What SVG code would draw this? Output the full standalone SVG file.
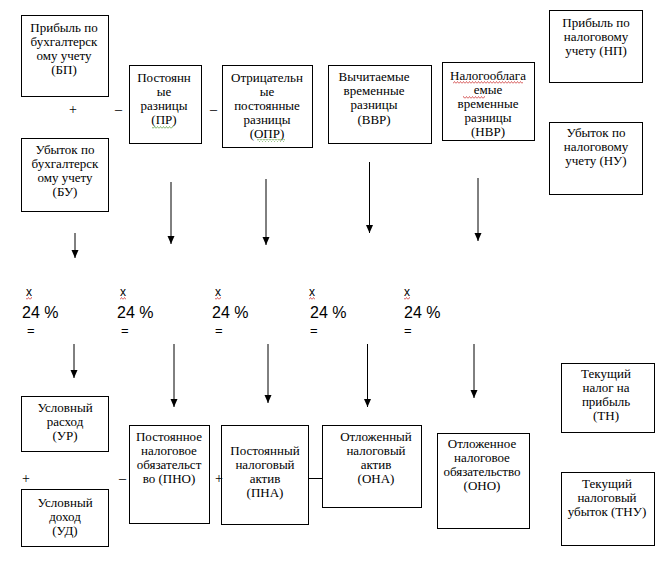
<svg xmlns="http://www.w3.org/2000/svg" width="665" height="562" viewBox="0 0 665 562">
<style>
.box{fill:#fff;stroke:#000;stroke-width:1}
.t{font-family:"Liberation Serif","DejaVu Serif",serif;font-size:13px;fill:#000;text-anchor:middle}
.op{font-family:"Liberation Serif","DejaVu Serif",serif;font-size:14px;fill:#000}
.pc{font-family:"Liberation Sans",Arial,sans-serif;font-size:16px;fill:#000}
.x{font-family:"Liberation Sans",Arial,sans-serif;font-size:12px;fill:#000}
.eq{font-family:"Liberation Sans",Arial,sans-serif;font-size:13px;fill:#000}
.con line{stroke:#000;stroke-width:1;fill:none}
.arr{marker-end:url(#ah)}
</style>
<defs>
<marker id="ah" markerUnits="userSpaceOnUse" viewBox="0 0 8 8" markerWidth="8" markerHeight="8" refX="8" refY="4" orient="auto">
<path d="M0,0.5 L8,4 L0,7.5 z" fill="#000"/>
</marker>
<pattern id="wg" patternUnits="userSpaceOnUse" width="3" height="3">
<path d="M0,2.5 L1.5,0.5 L3,2.5" fill="none" stroke="#6aa84f" stroke-width="0.8"/>
</pattern>
<pattern id="wr" patternUnits="userSpaceOnUse" width="3" height="3">
<path d="M0,2.5 L1.5,0.5 L3,2.5" fill="none" stroke="#d04040" stroke-width="0.8"/>
</pattern>
</defs>
<rect width="665" height="562" fill="#fff"/>

<g id="BP"><rect class="box" x="21.5" y="15.5" width="87" height="81"/>
<text class="t" x="64" y="32">Прибыль по</text><text class="t" x="64" y="46">бухгалтерск</text><text class="t" x="64" y="60">ому учету</text><text class="t" x="64" y="74">(БП)</text></g>

<g id="BU"><rect class="box" x="21.5" y="138.5" width="87" height="73"/>
<text class="t" x="65" y="154">Убыток по</text><text class="t" x="65" y="168">бухгалтерск</text><text class="t" x="65" y="182">ому учету</text><text class="t" x="65" y="196">(БУ)</text></g>

<g id="PR"><rect class="box" x="129.5" y="65.5" width="72" height="78"/>
<text class="t" x="164" y="82">Постоянн</text><text class="t" x="164" y="96">ые</text><text class="t" x="164" y="110">разницы</text><text class="t" x="164" y="124">(ПР)</text>
<rect x="152" y="126" width="21" height="3" fill="url(#wg)"/></g>

<g id="OPR"><rect class="box" x="222.5" y="65.5" width="90" height="82"/>
<text class="t" x="267" y="82">Отрицательн</text><text class="t" x="267" y="96">ые</text><text class="t" x="267" y="110">постоянные</text><text class="t" x="267" y="124">разницы</text><text class="t" x="267" y="138">(ОПР)</text>
<rect x="257" y="139" width="28" height="3" fill="url(#wg)"/></g>

<g id="VVR"><rect class="box" x="328.5" y="65.5" width="103" height="78"/>
<text class="t" x="374" y="81">Вычитаемые</text><text class="t" x="374" y="95">временные</text><text class="t" x="374" y="109">разницы</text><text class="t" x="374" y="124">(ВВР)</text></g>

<g id="NVR"><rect class="box" x="442.5" y="62.5" width="92" height="78"/>
<text class="t" x="488" y="80">Налогооблага</text><text class="t" x="488" y="94">емые</text><text class="t" x="488" y="108">временные</text><text class="t" x="488" y="122">разницы</text><text class="t" x="488" y="136">(НВР)</text>
<rect x="453" y="81" width="70" height="3" fill="url(#wr)"/>
<rect x="463" y="96" width="22" height="3" fill="url(#wr)"/></g>

<g id="NP"><rect class="box" x="549.5" y="10.5" width="93" height="72"/>
<text class="t" x="596" y="27">Прибыль по</text><text class="t" x="596" y="41">налоговому</text><text class="t" x="596" y="55">учету (НП)</text></g>

<g id="NU"><rect class="box" x="549.5" y="122.5" width="93" height="72"/>
<text class="t" x="596" y="137">Убыток по</text><text class="t" x="596" y="151">налоговому</text><text class="t" x="596" y="165">учету (НУ)</text></g>

<g id="rates">
<text class="x" x="26" y="296">х</text><text class="pc" x="22" y="318">24 %</text><text class="eq" x="27" y="335">=</text>
<text class="x" x="120" y="296">х</text><text class="pc" x="117" y="318">24 %</text><text class="eq" x="121" y="335">=</text>
<text class="x" x="215" y="296">х</text><text class="pc" x="212" y="318">24 %</text><text class="eq" x="215" y="335">=</text>
<text class="x" x="309" y="296">х</text><text class="pc" x="310" y="318">24 %</text><text class="eq" x="310" y="335">=</text>
<text class="x" x="404" y="296">х</text><text class="pc" x="404" y="318">24 %</text><text class="eq" x="404" y="335">=</text>
<rect x="26" y="297" width="6" height="3" fill="url(#wr)"/>
<rect x="120" y="297" width="6" height="3" fill="url(#wr)"/>
<rect x="215" y="297" width="6" height="3" fill="url(#wr)"/>
<rect x="309" y="297" width="6" height="3" fill="url(#wr)"/>
<rect x="404" y="297" width="6" height="3" fill="url(#wr)"/>
</g>

<g id="UR"><rect class="box" x="21.5" y="396.5" width="87" height="55"/>
<text class="t" x="65" y="412">Условный</text><text class="t" x="65" y="426">расход</text><text class="t" x="65" y="440">(УР)</text></g>

<g id="UD"><rect class="box" x="21.5" y="489.5" width="87" height="57"/>
<text class="t" x="65" y="507">Условный</text><text class="t" x="65" y="521">доход</text><text class="t" x="65" y="535">(УД)</text></g>

<g id="PNO"><rect class="box" x="129.5" y="425.5" width="80" height="98"/>
<text class="t" x="169" y="441">Постоянное</text><text class="t" x="169" y="455">налоговое</text><text class="t" x="169" y="469">обязательст</text><text class="t" x="169" y="483">во (ПНО)</text></g>

<g id="PNA"><rect class="box" x="221.5" y="425.5" width="87" height="99"/>
<text class="t" x="265" y="455">Постоянный</text><text class="t" x="265" y="469">налоговый</text><text class="t" x="265" y="483">актив</text><text class="t" x="265" y="497">(ПНА)</text></g>

<g id="ONA"><rect class="box" x="322.5" y="425.5" width="99" height="82"/>
<text class="t" x="376" y="441">Отложенный</text><text class="t" x="376" y="455">налоговый</text><text class="t" x="376" y="469">актив</text><text class="t" x="376" y="483">(ОНА)</text></g>

<g id="ONO"><rect class="box" x="437.5" y="433.5" width="92" height="95"/>
<text class="t" x="482" y="448">Отложенное</text><text class="t" x="482" y="462">налоговое</text><text class="t" x="482" y="476">обязательство</text><text class="t" x="482" y="490">(ОНО)</text></g>

<g id="TN"><rect class="box" x="561.5" y="363.5" width="93" height="69"/>
<text class="t" x="606" y="378">Текущий</text><text class="t" x="606" y="392">налог на</text><text class="t" x="606" y="406">прибыль</text><text class="t" x="606" y="420">(ТН)</text></g>

<g id="TNU"><rect class="box" x="561.5" y="472.5" width="93" height="73"/>
<text class="t" x="607" y="488">Текущий</text><text class="t" x="607" y="502">налоговый</text><text class="t" x="607" y="516">убыток (ТНУ)</text></g>

<g id="ops">
<text class="op" x="69" y="114">+</text>
<text class="op" x="115" y="114">–</text>
<text class="op" x="210" y="114">–</text>
<text class="op" x="22" y="483">+</text>
<text class="op" x="119" y="483">–</text>
<text class="op" x="215" y="483">+</text>
</g>

<g class="con" id="connectors">
<line class="arr" x1="75" y1="233" x2="75" y2="258"/>
<line class="arr" x1="171" y1="182" x2="171" y2="244"/>
<line class="arr" x1="266" y1="179" x2="266" y2="245"/>
<line class="arr" x1="369.5" y1="162" x2="369.5" y2="233"/>
<line class="arr" x1="478" y1="178" x2="478" y2="241"/>
<line class="arr" x1="74" y1="344" x2="74" y2="378"/>
<line class="arr" x1="174" y1="344" x2="174" y2="407"/>
<line class="arr" x1="268" y1="344" x2="268" y2="403"/>
<line class="arr" x1="367.5" y1="344" x2="367.5" y2="407"/>
<line class="arr" x1="474" y1="344" x2="474" y2="398"/>
<line x1="308.5" y1="478.5" x2="322.5" y2="478.5"/>
</g>
</svg>
